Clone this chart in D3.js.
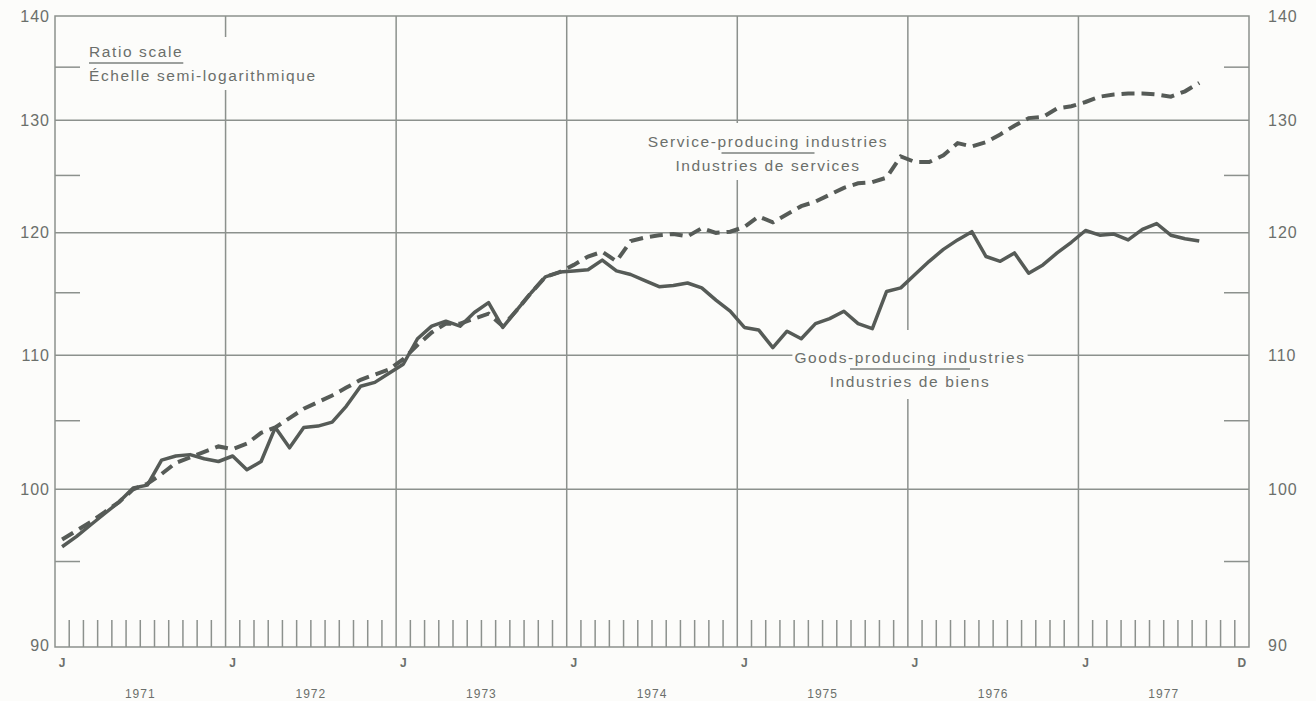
<!DOCTYPE html>
<html>
<head>
<meta charset="utf-8">
<script src="https://cdn.jsdelivr.net/npm/d3@7"></script>
<style>
body{margin:0;background:#fcfcfa;}
svg{display:block;}
text{font-family:"Liberation Sans",Arial,sans-serif;fill:#6b6f6b;}
</style>
</head>
<body>
<svg id="chart"></svg>
<script>
// monthly index, Jan 1971 .. Sep 1977 (ratio scale)
var goods = [
    96.0, 96.7, 97.5, 98.3, 99.1, 100.1, 100.3, 102.1, 102.4, 102.5, 102.2, 102.0,
    102.4, 101.4, 102.0, 104.5, 103.0, 104.5, 104.6, 104.9, 106.1, 107.6, 107.9, 108.6,
    109.3, 111.3, 112.3, 112.7, 112.3, 113.4, 114.2, 112.2, 113.6, 115.0, 116.3, 116.7,
    116.8, 116.9, 117.7, 116.8, 116.5, 116.0, 115.5, 115.6, 115.8, 115.4, 114.4, 113.5,
    112.2, 112.0, 110.6, 111.9, 111.3, 112.5, 112.9, 113.5, 112.5, 112.1, 115.1, 115.4,
    116.5, 117.6, 118.6, 119.4, 120.1, 118.0, 117.6, 118.3, 116.6, 117.3, 118.3, 119.2,
    120.2, 119.8, 119.9, 119.4, 120.3, 120.8, 119.8, 119.5, 119.3
]

var services = [
    96.5, 97.1, 97.7, 98.4, 99.1, 100.0, 100.4, 101.1, 101.9, 102.3, 102.7, 103.1,
    102.9, 103.3, 104.1, 104.5, 105.2, 105.9, 106.4, 106.9, 107.5, 108.1, 108.5, 108.9,
    109.7, 110.8, 111.8, 112.5, 112.5, 112.9, 113.3, 112.3, 113.6, 115.0, 116.3, 116.7,
    117.3, 118.0, 118.4, 117.6, 119.3, 119.6, 119.8, 119.9, 119.7, 120.4, 120.0, 120.1,
    120.5, 121.4, 120.9, 121.6, 122.3, 122.7, 123.3, 123.9, 124.3, 124.4, 124.8, 126.7,
    126.2, 126.2, 126.8, 127.9, 127.6, 128.0, 128.7, 129.5, 130.2, 130.3, 131.1, 131.3,
    131.7, 132.2, 132.4, 132.5, 132.5, 132.4, 132.2, 132.7, 133.5
]

var years = ["1971","1972","1973","1974","1975","1976","1977"]
var yLabels = [90,100,110,120,130,140]
var yGrid = [100,110,120,130]
var yMinor = [95,105,115,125,135]

var ink = "#565b57"
var gridColor = "#8c918d"

var initGraph = function(target)
{
    var screen = {width:1316, height:701};
    var plot = {left:55, right:1249, top:16, bottom:647};

    var svg = d3.select(target)
        .attr("width",screen.width)
        .attr("height",screen.height)

    var months = years.length*12;

    var xScale = d3.scaleLinear()
        .domain([0,months])
        .range([plot.left,plot.right])

    // bottom edge of the frame sits a touch below 90 on the original
    var yScale = d3.scaleLog()
        .domain([89.4,140])
        .range([plot.bottom,plot.top])

    var grid = svg.append("g")
        .attr("stroke",gridColor)
        .attr("stroke-width",1.5)
        .attr("fill","none")

    grid.append("rect")
        .attr("x",plot.left)
        .attr("y",plot.top)
        .attr("width",plot.right-plot.left)
        .attr("height",plot.bottom-plot.top)

    grid.selectAll(".hgrid")
        .data(yGrid)
        .enter()
        .append("line")
        .attr("x1",plot.left)
        .attr("x2",plot.right)
        .attr("y1",function(d){return yScale(d);})
        .attr("y2",function(d){return yScale(d);})

    grid.selectAll(".minorL")
        .data(yMinor)
        .enter()
        .append("line")
        .attr("x1",plot.left)
        .attr("x2",plot.left+25)
        .attr("y1",function(d){return yScale(d);})
        .attr("y2",function(d){return yScale(d);})

    grid.selectAll(".minorR")
        .data(yMinor)
        .enter()
        .append("line")
        .attr("x1",plot.right-25)
        .attr("x2",plot.right)
        .attr("y1",function(d){return yScale(d);})
        .attr("y2",function(d){return yScale(d);})

    //year gridlines
    grid.selectAll(".vgrid")
        .data(d3.range(12,months,12))
        .enter()
        .append("line")
        .attr("x1",function(d){return xScale(d);})
        .attr("x2",function(d){return xScale(d);})
        .attr("y1",plot.top)
        .attr("y2",plot.bottom)

    //month ticks
    grid.selectAll(".mtick")
        .data(d3.range(1,months).filter(function(d){return d%12!=0;}))
        .enter()
        .append("line")
        .attr("x1",function(d){return xScale(d);})
        .attr("x2",function(d){return xScale(d);})
        .attr("y1",plot.bottom-27)
        .attr("y2",plot.bottom)

    //axis labels
    var yLab = function(v){return v==90 ? plot.bottom-2 : yScale(v);}

    svg.selectAll(".ylabL")
        .data(yLabels)
        .enter()
        .append("text")
        .attr("x",50)
        .attr("y",function(d){return yLab(d);})
        .attr("dy","0.35em")
        .attr("text-anchor","end")
        .style("font-size","16px")
        .style("letter-spacing","1px")
        .text(function(d){return d;})

    svg.selectAll(".ylabR")
        .data(yLabels)
        .enter()
        .append("text")
        .attr("x",1268)
        .attr("y",function(d){return yLab(d);})
        .attr("dy","0.35em")
        .style("font-size","16px")
        .style("letter-spacing","1px")
        .text(function(d){return d;})

    var monthLabels = years.map(function(y,i){return {m:i*12+0.5, t:"J"};})
    monthLabels.push({m:months-0.5, t:"D"})

    svg.selectAll(".mlab")
        .data(monthLabels)
        .enter()
        .append("text")
        .attr("x",function(d){return xScale(d.m);})
        .attr("y",667)
        .attr("text-anchor","middle")
        .style("font-size","12px")
        .style("font-weight","bold")
        .text(function(d){return d.t;})

    svg.selectAll(".yearlab")
        .data(years)
        .enter()
        .append("text")
        .attr("x",function(d,i){return xScale(i*12+6);})
        .attr("y",698)
        .attr("text-anchor","middle")
        .style("font-size","12px")
        .style("letter-spacing","1px")
        .text(function(d){return d;})

    //annotations
    addNote(svg,{x:89,y:57,anchor:"start",lines:["Ratio scale","Échelle semi-logarithmique"],
        pad:[6,6,6,6],rule:"full"})
    addNote(svg,{x:768,y:147,anchor:"middle",lines:["Service-producing industries","Industries de services"],
        pad:[10,8,6,8],rule:93})
    addNote(svg,{x:910,y:363,anchor:"middle",lines:["Goods-producing industries","Industries de biens"],
        pad:[19,2,9,2],rule:120})

    //series
    var line = d3.line()
        .x(function(d,i){return xScale(i+0.5);})
        .y(function(d){return yScale(d);})

    svg.append("path")
        .datum(services)
        .attr("d",line)
        .attr("fill","none")
        .attr("stroke",ink)
        .attr("stroke-width",4)
        .attr("stroke-dasharray","13,7")

    svg.append("path")
        .datum(goods)
        .attr("d",line)
        .attr("fill","none")
        .attr("stroke",ink)
        .attr("stroke-width",3.5)
        .attr("stroke-linejoin","round")
}

// two-line bilingual label on a paper-coloured box, short rule between lines
var addNote = function(svg,note)
{
    var g = svg.append("g");
    var box = g.append("rect").attr("fill","#fcfcfa");

    var txt = g.selectAll("text")
        .data(note.lines)
        .enter()
        .append("text")
        .attr("x",note.x)
        .attr("y",function(d,i){return note.y+i*24;})
        .attr("text-anchor",note.anchor)
        .style("font-size","15.5px")
        .style("letter-spacing","1.6px")
        .text(function(d){return d;})

    var bb = g.node().getBBox();
    var p = note.pad; //top,right,bottom,left
    box.attr("x",bb.x-p[3])
        .attr("y",bb.y-p[0])
        .attr("width",bb.width+p[1]+p[3])
        .attr("height",bb.height+p[0]+p[2])

    var first = txt.nodes()[0].getBBox();
    var x1, x2;
    if(note.rule=="full")
    {
        x1 = first.x; x2 = first.x+first.width;
    }
    else
    {
        x1 = note.x-note.rule/2; x2 = note.x+note.rule/2;
    }
    g.append("line")
        .attr("x1",x1).attr("x2",x2)
        .attr("y1",note.y+6).attr("y2",note.y+6)
        .attr("stroke","#7d827e")
        .attr("stroke-width",1.3)
}

initGraph("#chart");
</script>
</body>
</html>
